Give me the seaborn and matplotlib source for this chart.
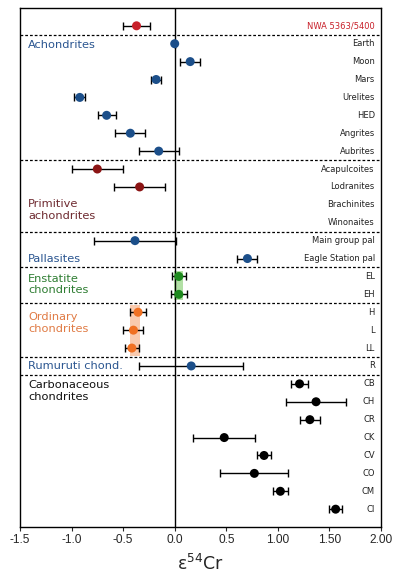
import numpy as np
import pandas as pd
import matplotlib
matplotlib.use('Agg')
import matplotlib.pyplot as plt
import seaborn as sns

# row labels top to bottom
names = ['NWA 5363/5400', 'Earth', 'Moon', 'Mars', 'Urelites', 'HED', 'Angrites', 'Aubrites',
         'Acapulcoites', 'Lodranites', 'Brachinites', 'Winonaites',
         'Main group pal', 'Eagle Station pal', 'EL', 'EH', 'H', 'L', 'LL', 'R',
         'CB', 'CH', 'CR', 'CK', 'CV', 'CO', 'CM', 'CI']
groups = ['nwa', 'achon', 'achon', 'achon', 'achon', 'achon', 'achon', 'achon',
          'prim', 'prim', 'prim', 'prim',
          'pall', 'pall', 'ens', 'ens', 'ord', 'ord', 'ord', 'rum',
          'carb', 'carb', 'carb', 'carb', 'carb', 'carb', 'carb', 'carb']
eps54 = [-0.37, 0.0, 0.15, -0.18, -0.92, -0.66, -0.43, -0.155,
         -0.75, -0.34, np.nan, np.nan,
         -0.385, 0.705, 0.04, 0.04, -0.355, -0.40, -0.415, 0.16,
         1.21, 1.37, 1.31, 0.48, 0.866, 0.772, 1.024, 1.56]
err = [0.13, 0.0, 0.10, 0.05, 0.055, 0.087, 0.145, 0.195,
       0.25, 0.245, np.nan, np.nan,
       0.40, 0.097, 0.065, 0.08, 0.078, 0.097, 0.07, 0.505,
       0.085, 0.29, 0.097, 0.30, 0.07, 0.33, 0.076, 0.063]

palette = {'nwa': '#c8202a', 'achon': '#1c4f8a', 'prim': '#8b1414', 'pall': '#1c4f8a',
           'ens': '#1e8a1e', 'ord': '#f07022', 'rum': '#1c4f8a', 'carb': '#000000'}
text_colors = {'achon': '#2a5590', 'prim': '#6e2a30', 'pall': '#2a5590', 'ens': '#2e7d32',
               'ord': '#e07b45', 'rum': '#2a5590', 'carb': '#111111'}

group_labels = [('Achondrites', 1.1, 'achon'), ('Primitive\nachondrites', 10.3, 'prim'),
                ('Pallasites', 13.0, 'pall'), ('Enstatite\nchondrites', 14.45, 'ens'),
                ('Ordinary\nchondrites', 16.6, 'ord'), ('Rumuruti chond.', 19.0, 'rum'),
                ('Carbonaceous\nchondrites', 20.4, 'carb')]
separators = [0.5, 7.5, 11.5, 13.5, 15.5, 18.5, 19.5]

df = pd.DataFrame({'name': names, 'group': groups, 'eps': eps54, 'err': err})
df['row'] = np.arange(len(df))

sns.set_style('white')
fig = plt.figure(figsize=(3.99, 5.85), dpi=100)
ax = fig.add_axes([0.050, 0.099, 0.905, 0.8875])

# shaded bands for chondrite groups
ax.fill_betweenx([13.7, 15.3], -0.01, 0.08, color='#7fcc6a', alpha=0.6, lw=0, zorder=1)
ax.fill_betweenx([15.6, 18.45], -0.43, -0.34, color='#f5a878', alpha=0.6, lw=0, zorder=1)

ax.axvline(0, color='black', lw=1.0, zorder=2)
for s in separators:
    ax.axhline(s, color='black', lw=0.9, ls=(0, (2.2, 1.6)), zorder=2)

d = df.dropna()
ax.errorbar(d['eps'], d['row'], xerr=d['err'], fmt='none', ecolor='black',
            elinewidth=1.0, capsize=2.6, capthick=1.0, zorder=3)
sns.scatterplot(data=d, x='eps', y='row', hue='group', palette=palette, s=42,
                edgecolor=None, linewidth=0, legend=False, zorder=4, ax=ax)

for _, r in df.iterrows():
    col = palette['nwa'] if r['group'] == 'nwa' else '#222222'
    ax.text(1.94, r['row'], r['name'], ha='right', va='center', fontsize=6.0, color=col)

for txt, y, g in group_labels:
    ax.text(-1.42, y, txt, ha='left', va='center', fontsize=8.2, color=text_colors[g],
            linespacing=1.2)

ax.set_xlim(-1.5, 2.0)
ax.set_ylim(28, -1)
ax.set_yticks([])
ax.set_xticks([-1.5, -1.0, -0.5, 0.0, 0.5, 1.0, 1.5, 2.0])
ax.set_xticklabels(['-1.5', '-1.0', '-0.5', '0.0', '0.5', '1.00', '1.50', '2.00'],
                   fontsize=8.6, family='Liberation Sans')
ax.tick_params(axis='x', direction='out', length=3, width=0.8, pad=2, bottom=True)
ax.set_xlabel(r'$\mathregular{\epsilon^{54}Cr}$', fontsize=12.5, labelpad=6)
ax.set_ylabel('')
for sp in ax.spines.values():
    sp.set_color('black')
    sp.set_linewidth(1.0)

fig.savefig('out.png', dpi=100)
